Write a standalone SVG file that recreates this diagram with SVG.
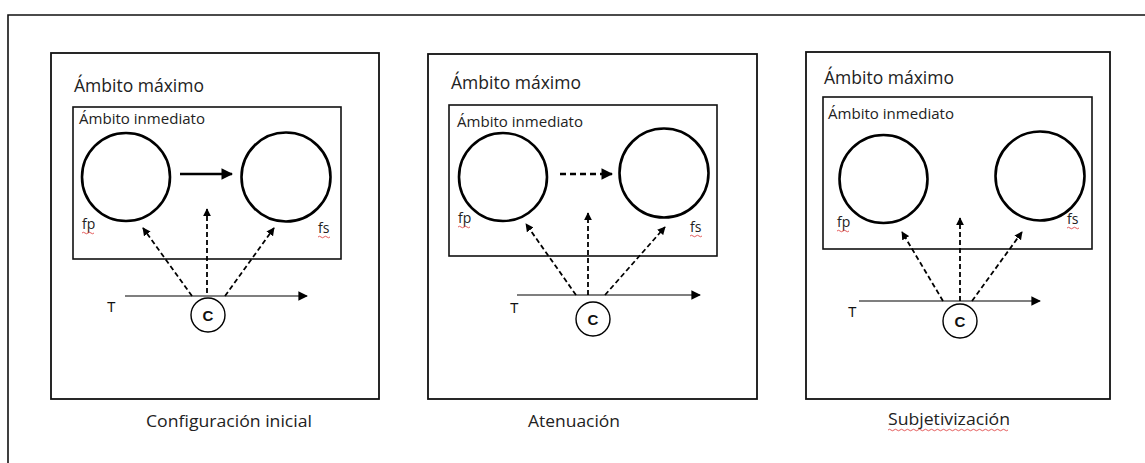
<svg xmlns="http://www.w3.org/2000/svg" width="1145" height="463" viewBox="0 0 1145 463">
  <defs>
    <marker id="head" viewBox="0 0 10 10" refX="9" refY="5" markerWidth="4.5" markerHeight="4.5" orient="auto" markerUnits="strokeWidth">
      <path d="M0,0 L10,5 L0,10 z" fill="#000"/>
    </marker>
    <marker id="headT" viewBox="0 0 10 10" refX="9" refY="5" markerWidth="8" markerHeight="8" orient="auto" markerUnits="strokeWidth">
      <path d="M0,0 L10,5 L0,10 z" fill="#000"/>
    </marker>
    <style>
      .frame { fill: none; stroke: #111; stroke-width: 1.6; }
      .box { fill: #fff; stroke: #111; stroke-width: 1.8; }
      .inner { fill: #fff; stroke: #111; stroke-width: 1.6; }
      .node { fill: none; stroke: #000; stroke-width: 2.6; }
      .cnode { fill: #fff; stroke: #000; stroke-width: 1.4; }
      .axis { stroke: #000; stroke-width: 1.2; fill: none; }
      .solid { stroke: #000; stroke-width: 2.6; fill: none; }
      .dash { stroke: #000; stroke-width: 1.8; fill: none; stroke-dasharray: 5 3; }
      .dashH { stroke: #000; stroke-width: 2.6; fill: none; stroke-dasharray: 6 4; }
      .t { font-family: "Open Sans", "Liberation Sans", sans-serif; fill: #222; }
      .max { font-size: 17.5px; }
      .inm { font-size: 15px; }
      .lbl { font-size: 14px; }
      .cap { font-size: 17px; }
      .c { font-family: "Liberation Sans", Arial, sans-serif; font-size: 15px; font-weight: bold; fill: #111; }
      .T { font-family: "Liberation Sans", Arial, sans-serif; font-size: 14px; fill: #111; }
      .squig { fill: none; stroke: #d33; stroke-width: 0.8; }
    </style>
  </defs>

  <rect width="1145" height="463" fill="#fff"/>

  <!-- page frame, open to the right and bottom -->
  <path class="frame" d="M8,463 L8,15 L1145,15"/>

  <!-- panel 1: initial configuration -->
  <g id="panel-inicial">
    <rect class="box" x="51" y="53" width="328" height="346"/>
    <text class="t max" x="74" y="92" textLength="130" lengthAdjust="spacingAndGlyphs">Ámbito máximo</text>
    <rect class="inner" x="73" y="107" width="268" height="152"/>
    <text class="t inm" x="79" y="124" textLength="126" lengthAdjust="spacingAndGlyphs">Ámbito inmediato</text>
    <g id="fp1"><circle class="node" cx="126" cy="177" r="44"/><text class="t lbl" x="82" y="229">fp</text><path class="squig" d="M82,233 q1.5,-1.5 3,0 t3,0 t3,0 t3,0"/></g>
    <g id="fs1"><circle class="node" cx="286" cy="177" r="44.5"/><text class="t lbl" x="318" y="233">fs</text><path class="squig" d="M318,237 q1.5,-1.5 3,0 t3,0 t3,0 t3,0"/></g>
    <g id="c1"><circle class="cnode" cx="208" cy="315" r="17"/><text class="c" x="208" y="320.5" text-anchor="middle">C</text></g>
    <text class="T" x="107" y="312">T</text>
    <text class="t cap" x="146" y="427" textLength="166" lengthAdjust="spacingAndGlyphs">Configuración inicial</text>
  </g>

  <!-- panel 2: attenuation -->
  <g id="panel-atenuacion">
    <rect class="box" x="428" y="54" width="329" height="345"/>
    <text class="t max" x="451" y="89" textLength="130" lengthAdjust="spacingAndGlyphs">Ámbito máximo</text>
    <rect class="inner" x="449" y="105" width="268" height="151"/>
    <text class="t inm" x="457" y="127" textLength="126" lengthAdjust="spacingAndGlyphs">Ámbito inmediato</text>
    <g id="fp2"><circle class="node" cx="503" cy="177" r="44"/><text class="t lbl" x="458" y="223">fp</text><path class="squig" d="M458,227 q1.5,-1.5 3,0 t3,0 t3,0 t3,0"/></g>
    <g id="fs2"><circle class="node" cx="664" cy="173" r="44.5"/><text class="t lbl" x="690" y="232">fs</text><path class="squig" d="M690,236 q1.5,-1.5 3,0 t3,0 t3,0 t3,0"/></g>
    <g id="c2"><circle class="cnode" cx="593" cy="319" r="17"/><text class="c" x="593" y="324.5" text-anchor="middle">C</text></g>
    <text class="T" x="510" y="313">T</text>
    <text class="t cap" x="528" y="427" textLength="92" lengthAdjust="spacingAndGlyphs">Atenuación</text>
  </g>

  <!-- panel 3: subjectification -->
  <g id="panel-subjetivizacion">
    <rect class="box" x="806" y="52" width="304" height="347"/>
    <text class="t max" x="824" y="84" textLength="130" lengthAdjust="spacingAndGlyphs">Ámbito máximo</text>
    <rect class="inner" x="823" y="97" width="269" height="152"/>
    <text class="t inm" x="828" y="119" textLength="126" lengthAdjust="spacingAndGlyphs">Ámbito inmediato</text>
    <g id="fp3"><circle class="node" cx="883.5" cy="179" r="44"/><text class="t lbl" x="837" y="227">fp</text><path class="squig" d="M837,231 q1.5,-1.5 3,0 t3,0 t3,0 t3,0"/></g>
    <g id="fs3"><circle class="node" cx="1040" cy="176" r="44.5"/><text class="t lbl" x="1067" y="224">fs</text><path class="squig" d="M1067,228 q1.5,-1.5 3,0 t3,0 t3,0 t3,0"/></g>
    <g id="c3"><circle class="cnode" cx="960" cy="321" r="17"/><text class="c" x="960" y="326.5" text-anchor="middle">C</text></g>
    <text class="T" x="848" y="317">T</text>
    <text class="t cap" x="888" y="425" textLength="122" lengthAdjust="spacingAndGlyphs">Subjetivización</text>
    <path class="squig" d="M888,430 q1.5,-1.5 3,0 t3,0 t3,0 t3,0 t3,0 t3,0 t3,0 t3,0 t3,0 t3,0 t3,0 t3,0 t3,0 t3,0 t3,0 t3,0 t3,0 t3,0 t3,0 t3,0 t3,0 t3,0 t3,0 t3,0 t3,0 t3,0 t3,0 t3,0 t3,0 t3,0 t3,0 t3,0 t3,0 t3,0 t3,0 t3,0 t3,0 t3,0 t3,0 t3,0"/>
  </g>

  <!-- connectors -->
  <g id="connectors">
    <!-- time axes -->
    <line class="axis" x1="125" y1="296" x2="307" y2="296" marker-end="url(#headT)"/>
    <line class="axis" x1="517" y1="295" x2="700" y2="295" marker-end="url(#headT)"/>
    <line class="axis" x1="859" y1="301" x2="1040" y2="301" marker-end="url(#headT)"/>

    <!-- fp to fs -->
    <line class="solid" x1="180" y1="174" x2="232" y2="174" marker-end="url(#head)"/>
    <line class="dashH" x1="560" y1="174" x2="612" y2="174" marker-end="url(#head)"/>

    <!-- C projections, panel 1 -->
    <line class="dash" x1="192" y1="296" x2="143" y2="228" marker-end="url(#head)"/>
    <line class="dash" x1="207" y1="293" x2="207" y2="209" marker-end="url(#head)"/>
    <line class="dash" x1="225" y1="296" x2="274" y2="228" marker-end="url(#head)"/>

    <!-- C projections, panel 2 -->
    <line class="dash" x1="576" y1="295" x2="526" y2="224" marker-end="url(#head)"/>
    <line class="dash" x1="588" y1="295" x2="588" y2="213" marker-end="url(#head)"/>
    <line class="dash" x1="605" y1="295" x2="665" y2="227" marker-end="url(#head)"/>

    <!-- C projections, panel 3 -->
    <line class="dash" x1="943" y1="301" x2="902" y2="232" marker-end="url(#head)"/>
    <line class="dash" x1="960" y1="301" x2="960" y2="218" marker-end="url(#head)"/>
    <line class="dash" x1="972" y1="301" x2="1022" y2="232" marker-end="url(#head)"/>
  </g>
</svg>
